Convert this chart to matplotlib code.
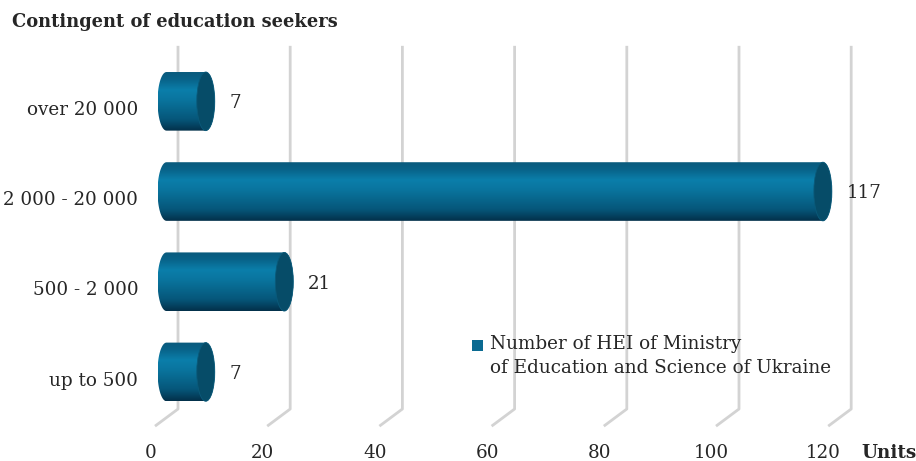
import numpy as np
import matplotlib
matplotlib.use("Agg")
import matplotlib.pyplot as plt
from matplotlib.path import Path
from matplotlib.patches import PathPatch, Ellipse, Rectangle
from matplotlib.colors import LinearSegmentedColormap

plt.rcParams["font.family"] = ["DejaVu Serif"]

categories = ["up to 500", "500 - 2 000", "2 000 - 20 000", "over 20 000"]
values = [7, 21, 117, 7]
x_ticks = [0, 20, 40, 60, 80, 100, 120]
series_name = "Number of HEI of Ministry\nof Education and Science of Ukraine"
title = "Contingent of education seekers"
x_unit = "Units"

# fake 3d: depth of the floor/walls and cylinder size in data units
DX, DY = 4.1, 0.19
CAP_A = 1.6      # half width of the end ellipse
HALF_H = 0.325   # cylinder radius (vertical)

FS = 13.2
text_col = "#262626"
grid_col = "#d3d3d3"
body_cmap = LinearSegmentedColormap.from_list(
    "cyl", [(0.0, "#03304a"), (0.2, "#06577a"), (0.55, "#0a76a0"),
            (0.7, "#0b7eaa"), (0.88, "#086288"), (1.0, "#0a5a7c")])

fig = plt.figure(figsize=(9.16, 4.61), dpi=100)
ax = fig.add_axes([0, 0, 1, 1])
ax.set_xlim(-155 / 5.61, (916 - 155) / 5.61)
ax.set_ylim((380.5 - 461) / 90.2, 380.5 / 90.2)
ax.axis("off")

# wall gridlines with a bent foot on the floor
y_top = 3.71
y_floor_back = -0.316
for v in x_ticks:
    ax.plot([v + DX, v + DX, v], [y_top, y_floor_back, y_floor_back - DY],
            color=grid_col, lw=2, solid_capstyle="butt", zorder=1)
    ax.text(v - 0.8, -0.8, str(v), ha="center", va="center",
            fontsize=FS, color=text_col)
ax.text(126.0, -0.8, x_unit, ha="left", va="center", fontsize=FS,
        fontweight="bold", color=text_col)


def cylinder(x1, yc):
    x0 = DX / 2
    t = np.linspace(np.pi / 2, 3 * np.pi / 2, 40)
    left = np.column_stack([x0 + CAP_A * np.cos(t), yc + HALF_H * np.sin(t)])
    t2 = np.linspace(-np.pi / 2, np.pi / 2, 40)
    right = np.column_stack([x1 + CAP_A * np.cos(t2), yc + HALF_H * np.sin(t2)])
    verts = np.vstack([left, right, left[:1]])
    codes = [Path.MOVETO] + [Path.LINETO] * (len(verts) - 2) + [Path.CLOSEPOLY]
    body = PathPatch(Path(verts, codes), facecolor="none", edgecolor="none")
    ax.add_patch(body)
    grad = np.linspace(0, 1, 256).reshape(-1, 1)
    im = ax.imshow(grad, cmap=body_cmap, origin="lower", aspect="auto",
                   extent=[x0 - CAP_A, x1 + CAP_A, yc - HALF_H, yc + HALF_H],
                   zorder=2, interpolation="bilinear")
    im.set_clip_path(body)
    cap = Ellipse((x1, yc), 2 * CAP_A, 2 * HALF_H, facecolor="#064c68",
                  edgecolor="#0a5a7a", lw=0.6, zorder=3)
    ax.add_patch(cap)


for i, (cat, v) in enumerate(zip(categories, values)):
    yc = i + DY / 2
    cylinder(v + DX / 2, yc)
    ax.text(-3.0, i, cat, ha="right", va="center", fontsize=FS,
            color=text_col)
    ax.text(v + DX / 2 + CAP_A + 2.6, yc - 0.02, str(v), ha="left",
            va="center", fontsize=FS, color=text_col, zorder=4)

# title and legend
fig.text(12 / 916, 1 - 22 / 461, title, ha="left", va="center",
         fontsize=12.9, fontweight="bold", color=text_col)
fig.add_artist(Rectangle((472 / 916, 1 - 351 / 461), 11 / 916, 11 / 461,
                         transform=fig.transFigure, facecolor="#0a6a91",
                         edgecolor="none"))
fig.text(490 / 916, 1 - 335 / 461, series_name, ha="left", va="top",
         fontsize=FS, color=text_col, linespacing=1.45)

fig.savefig("out.png", dpi=100)
